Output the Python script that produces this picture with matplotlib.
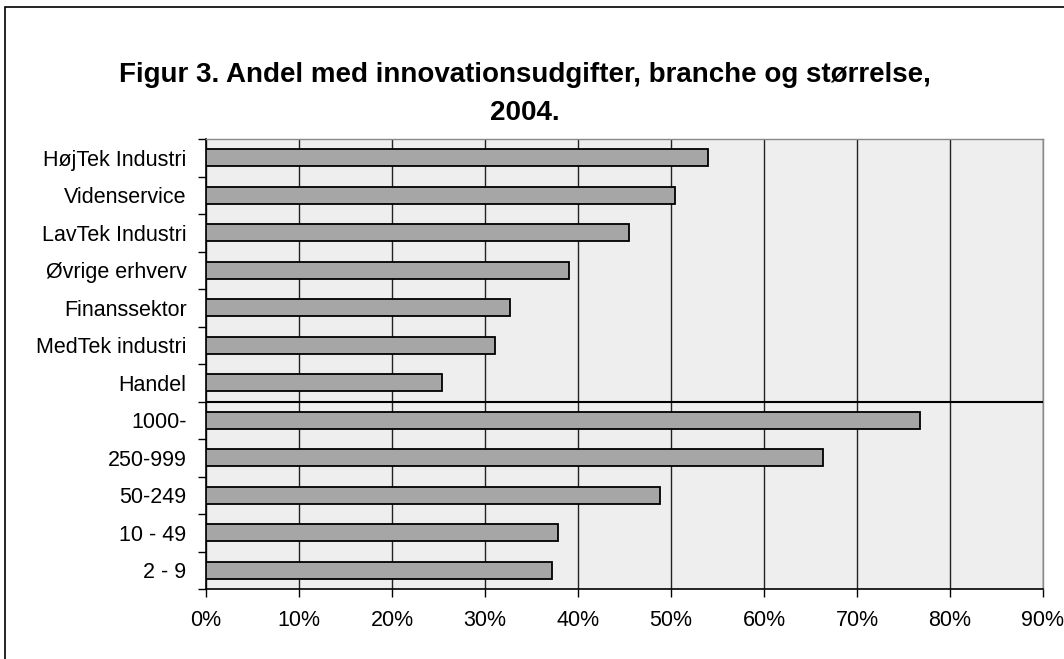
import matplotlib
matplotlib.use("Agg")
import matplotlib.pyplot as plt
from matplotlib.patches import Rectangle
import numpy as np

plt.rcParams['font.family'] = ['Liberation Sans', 'DejaVu Sans']

categories = ["HøjTek Industri", "Videnservice", "LavTek Industri", "Øvrige erhverv",
              "Finanssektor", "MedTek industri", "Handel",
              "1000-", "250-999", "50-249", "10 - 49", "2 - 9"]
values = [54.0, 50.4, 45.5, 39.0, 32.7, 31.1, 25.4, 76.8, 66.3, 48.8, 37.8, 37.2]
xticks = [0, 10, 20, 30, 40, 50, 60, 70, 80, 90]
xticklabels = [f"{t}%" for t in xticks]
title = "Figur 3. Andel med innovationsudgifter, branche og størrelse,\n2004."

W, H = 1064, 659
fig = plt.figure(figsize=(W / 100, H / 100), dpi=100)
fig.patch.set_facecolor("white")

# outer frame (cut off at right and bottom)
fig.add_artist(Rectangle((5 / W, -0.1), 1.2, (H - 7) / H + 0.1, transform=fig.transFigure,
                         fill=False, edgecolor="black", linewidth=1.2))

ax = fig.add_axes([206 / W, 1 - 589 / H, (1043 - 206) / W, (589 - 139) / H])
ax.set_facecolor("#eeeeee")

n = len(categories)
y = np.arange(n)
ax.barh(y, values, height=0.46, color="#a6a6a6", edgecolor="black", linewidth=1.3, zorder=3)

ax.set_xlim(0, 90)
ax.set_ylim(n - 0.5, -0.5)
ax.set_xticks(xticks)
ax.set_xticklabels(xticklabels, fontsize=15.5)
ax.xaxis.grid(True, color="#222222", linewidth=1.0, zorder=1)
ax.set_axisbelow(True)

ax.set_yticks(y)
ax.set_yticklabels(categories, fontsize=15.5)
ax.tick_params(axis="y", length=0, pad=14)
ax.set_yticks(np.arange(n + 1) - 0.5, minor=True)
ax.tick_params(axis="y", which="minor", length=6, width=1, direction="out")
ax.tick_params(axis="x", length=6, width=1, direction="out", pad=9)

# separator between branche and size groups
ax.axhline(6.5, color="black", linewidth=1.5, zorder=4)

for side in ["top", "right"]:
    ax.spines[side].set_color("#888888")
    ax.spines[side].set_linewidth(1.0)
for side in ["left", "bottom"]:
    ax.spines[side].set_color("black")
    ax.spines[side].set_linewidth(1.2)

fig.text(525 / W, 1 - 94 / H, title, ha="center", va="center", fontsize=20,
         fontweight="bold", linespacing=1.6)

fig.savefig("out.png", dpi=100)
